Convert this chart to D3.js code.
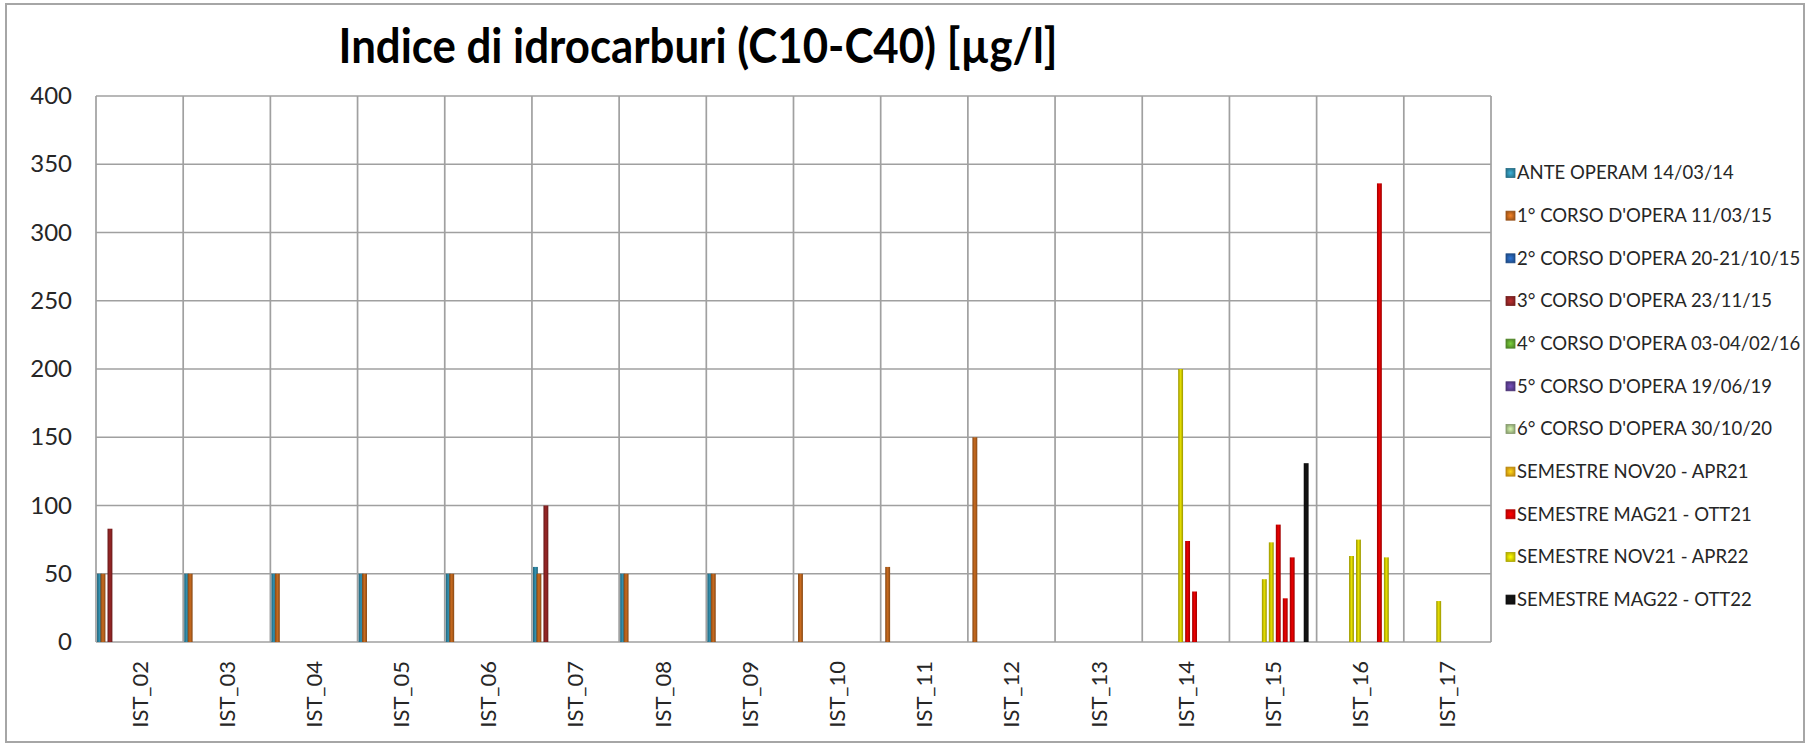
<!DOCTYPE html>
<html>
<head>
<meta charset="utf-8">
<script src="https://cdn.jsdelivr.net/npm/d3@7"></script>
<style>
  html, body { margin: 0; padding: 0; background: #fff; }
  svg { display: block; }
</style>
</head>
<body>
<svg id="chart" width="1818" height="747"></svg>
<script>
// Monitoring stations on the category axis
const stations = ['IST_02','IST_03','IST_04','IST_05','IST_06','IST_07','IST_08','IST_09',
                  'IST_10','IST_11','IST_12','IST_13','IST_14','IST_15','IST_16','IST_17'];

// Legend entries (one per monitoring campaign / semester)
const seriesNames = [
  'ANTE OPERAM 14/03/14',
  "1° CORSO D'OPERA 11/03/15",
  "2° CORSO D'OPERA 20-21/10/15",
  "3° CORSO D'OPERA 23/11/15",
  "4° CORSO D'OPERA 03-04/02/16",
  "5° CORSO D'OPERA 19/06/19",
  "6° CORSO D'OPERA 30/10/20",
  'SEMESTRE NOV20 - APR21',
  'SEMESTRE MAG21 - OTT21',
  'SEMESTRE NOV21 - APR22',
  'SEMESTRE MAG22 - OTT22'
];
const seriesColors = ['#2E86A3','#B8621C','#2459A0','#8E2424','#5E9E2E','#5A3D8E',
                      '#A3BC84','#E0A412','#D90000','#D2CC00','#111111'];

// Sampling rounds inside each station cluster, and the legend entry of each
const rounds = ['AO','CO1','CO2','CO3','CO4','CO5','CO6',
                'N20a','N20b','N21a','N21b','N21c',
                'M21a','M21b','M21c','M21d','M21e','M21f',
                'N21d','N21e','N21f','M22a','M22b','M22c'];
const roundSeries = [0,1,2,3,4,5,6, 7,7,9,9,9, 8,8,8,8,8,8, 9,9,9, 10,10,10];

const yTicks = [0,50,100,150,200,250,300,350,400];

// Single campaigns: one value per station (null = no result)
const anteOperam = [50,50,50,50,50,55,50,50,null,null,null,null,null,null,null,null];
const corso1     = [50,50,50,50,50,50,50,50,50,55,150,null,null,null,null,null];
const corso3     = [83,null,null,null,null,100,null,null,null,null,null,null,null,null,null,null];

// Semester monitoring: [station, sampling round, value]
const semNov21 = [['IST_14','N21b',200],['IST_15','N21a',46],['IST_15','N21c',73],
                  ['IST_16','N21a',63],['IST_16','N21c',75],['IST_16','N21e',62],['IST_17','N21a',30]];
const semMag21 = [['IST_14','M21a',74],['IST_14','M21c',37],['IST_15','M21b',86],
                  ['IST_15','M21d',32],['IST_15','M21f',62],['IST_16','M21f',336]];
const semMag22 = [['IST_15','M22a',131]];

// ---- assemble readings ----
const readings = [];
[[anteOperam,'AO'],[corso1,'CO1'],[corso3,'CO3']].forEach(([vals, r]) => {
  vals.forEach((v, i) => { if (v != null) readings.push({station: stations[i], round: r, value: v}); });
});
[semNov21, semMag21, semMag22].forEach(list => {
  list.forEach(([s, r, v]) => readings.push({station: s, round: r, value: v}));
});
readings.forEach(d => { d.series = roundSeries[rounds.indexOf(d.round)]; });
readings.sort((a, b) => rounds.indexOf(a.round) - rounds.indexOf(b.round));

// ---- layout ----
const svg = d3.select('#chart');
const plot = {left: 96, right: 1491, top: 96, bottom: 642};
const FONT = 'Lato, "Open Sans", "DejaVu Sans", sans-serif';

const x = d3.scaleBand().domain(stations).range([plot.left, plot.right]).padding(0);
const inner = d3.scaleBand().domain(rounds).range([0, x.bandwidth()]).paddingInner(0).paddingOuter(0.5);
const y = d3.scaleLinear().domain([0, 400]).range([plot.bottom, plot.top]);

// gradients giving the bars their shaded edges
const defs = svg.append('defs');
seriesColors.forEach((c, i) => {
  const g = defs.append('linearGradient').attr('id', 'bar' + i)
    .attr('x1', '0%').attr('x2', '100%').attr('y1', '0%').attr('y2', '0%');
  const base = d3.color(c);
  g.append('stop').attr('offset', '0%').attr('stop-color', base.darker(0.9).formatHex());
  g.append('stop').attr('offset', '50%').attr('stop-color', base.brighter(0.25).formatHex());
  g.append('stop').attr('offset', '100%').attr('stop-color', base.darker(0.9).formatHex());
  const s = defs.append('radialGradient').attr('id', 'sw' + i);
  s.append('stop').attr('offset', '0%').attr('stop-color', base.brighter(0.8).formatHex());
  s.append('stop').attr('offset', '100%').attr('stop-color', base.darker(0.3).formatHex());
});

// outer chart frame
svg.append('rect')
  .attr('x', 6).attr('y', 4).attr('width', 1798).attr('height', 738)
  .attr('fill', '#fff').attr('stroke', '#A6A6A6').attr('stroke-width', 2);

// title
svg.append('text')
  .attr('x', 698).attr('y', 63)
  .attr('text-anchor', 'middle')
  .attr('font-family', FONT).attr('font-weight', 700).attr('font-size', 47)
  .attr('textLength', 719).attr('lengthAdjust', 'spacingAndGlyphs')
  .attr('fill', '#000')
  .text('Indice di idrocarburi (C10-C40) [µg/l]');

// horizontal gridlines + y labels
const yAxis = d3.axisLeft(y).tickValues(yTicks).tickSize(0).tickPadding(0);
const yg = svg.append('g').attr('transform', `translate(${plot.left},0)`).call(yAxis);
yg.select('.domain').remove();
yg.selectAll('.tick text')
  .attr('x', 72 - plot.left).attr('text-anchor', 'end')
  .attr('font-family', FONT).attr('font-size', 24).attr('fill', '#262626');

svg.append('g').selectAll('line').data(yTicks).join('line')
  .attr('x1', plot.left).attr('x2', plot.right)
  .attr('y1', d => y(d)).attr('y2', d => y(d))
  .attr('stroke', '#A0A0A0').attr('stroke-width', 1.7);

// vertical gridlines at category boundaries
const bounds = stations.map(s => x(s)).concat([plot.right]);
svg.append('g').selectAll('line').data(bounds).join('line')
  .attr('x1', d => d).attr('x2', d => d)
  .attr('y1', plot.top).attr('y2', plot.bottom)
  .attr('stroke', '#A0A0A0').attr('stroke-width', 1.7);

// x labels (rotated)
const xAxis = d3.axisBottom(x).tickSize(0).tickPadding(0);
const xg = svg.append('g').attr('transform', `translate(0,${plot.bottom})`).call(xAxis);
xg.select('.domain').remove();
xg.selectAll('.tick text')
  .attr('transform', 'rotate(-90)')
  .attr('x', -(661 - plot.bottom)).attr('y', 0).attr('dy', '0.36em')
  .attr('text-anchor', 'end')
  .attr('font-family', FONT).attr('font-size', 22).attr('fill', '#262626');

// bars
const extra = 1.4;
svg.append('g').selectAll('rect').data(readings).join('rect')
  .attr('x', d => x(d.station) + inner(d.round) - extra / 2)
  .attr('width', inner.bandwidth() + extra)
  .attr('y', d => y(d.value))
  .attr('height', d => y(0) - y(d.value))
  .attr('fill', d => `url(#bar${d.series})`);

// legend
const legendTop = 173, legendStep = 42.66;
const lg = svg.append('g').selectAll('g').data(seriesNames).join('g')
  .attr('transform', (d, i) => `translate(1506,${legendTop + i * legendStep})`);
lg.append('rect')
  .attr('x', 0).attr('y', -4.5).attr('width', 9).attr('height', 9)
  .attr('fill', (d, i) => `url(#sw${i})`)
  .attr('stroke', (d, i) => d3.color(seriesColors[i]).darker(0.6).formatHex())
  .attr('stroke-width', 0.8);
lg.append('text')
  .attr('x', 11).attr('y', 0).attr('dy', '0.35em')
  .attr('font-family', FONT).attr('font-size', 18.5).attr('fill', '#262626')
  .text(d => d);
</script>
</body>
</html>
